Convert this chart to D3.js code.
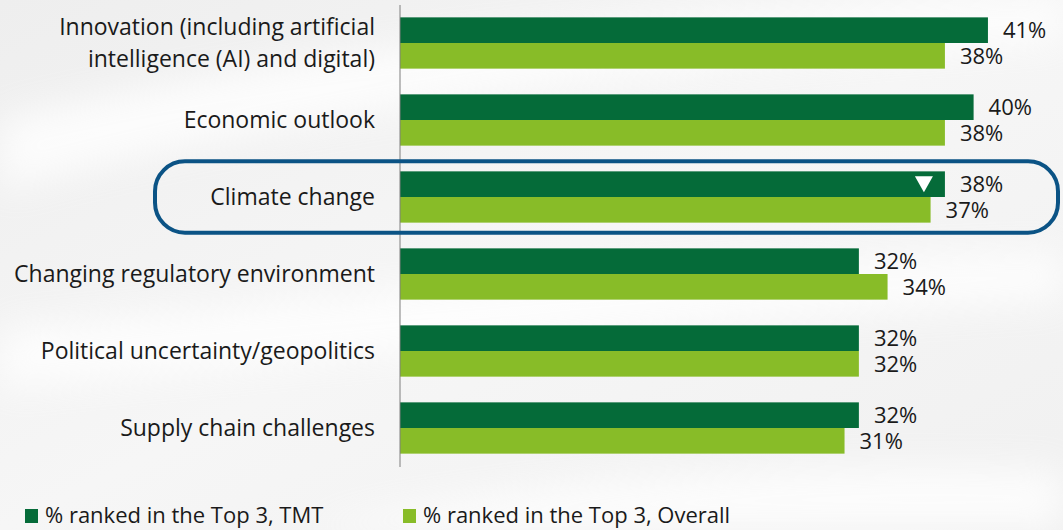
<!DOCTYPE html>
<html>
<head>
<meta charset="utf-8">
<script src="https://cdn.jsdelivr.net/npm/d3@7"></script>
<style>
  html, body { margin: 0; padding: 0; background: #f3f3f3; }
  svg { display: block; }
  text { font-family: "Open Sans", "Noto Sans", sans-serif; fill: #1a1a1a; }
</style>
</head>
<body>
<div id="chartDiv"></div>
<script>
// chart data
var categories = [
  ["Innovation (including artificial", "intelligence (AI) and digital)"],
  ["Economic outlook"],
  ["Climate change"],
  ["Changing regulatory environment"],
  ["Political uncertainty/geopolitics"],
  ["Supply chain challenges"]
];
var tmtValues = [41, 40, 38, 32, 32, 32];
var overallValues = [38, 38, 37, 34, 32, 31];
var seriesNames = ["% ranked in the Top 3, TMT", "% ranked in the Top 3, Overall"];
var seriesColors = ["#056b39", "#88bc28"];
var highlightIndex = 2;   // Climate change gets the outline + down marker

var width = 1063, height = 530;
var axisX = 400;

var svg = d3.select("#chartDiv").append("svg")
    .attr("width", width)
    .attr("height", height);

// background: soft gray with faint white swooshes
var defs = svg.append("defs");
var bg = defs.append("linearGradient").attr("id", "bgGrad")
    .attr("x1", 0).attr("y1", 0).attr("x2", 1).attr("y2", 1);
bg.append("stop").attr("offset", "0%").attr("stop-color", "#eeeeee");
bg.append("stop").attr("offset", "50%").attr("stop-color", "#f6f6f6");
bg.append("stop").attr("offset", "100%").attr("stop-color", "#f0f0f0");
defs.append("filter").attr("id", "blur").append("feGaussianBlur").attr("stdDeviation", 18);

svg.append("rect").attr("width", width).attr("height", height).attr("fill", "url(#bgGrad)");
var swoosh = svg.append("g").attr("filter", "url(#blur)").attr("fill", "#ffffff").attr("opacity", 0.8);
swoosh.append("path").attr("d", "M0,120 C250,60 600,10 1063,0 L1063,40 C700,60 300,110 0,190 Z");
swoosh.append("path").attr("d", "M0,330 C300,300 700,260 1063,250 L1063,300 C700,320 300,360 0,390 Z");
swoosh.append("path").attr("d", "M300,530 C500,480 800,460 1063,470 L1063,530 Z");

var x = d3.scaleLinear()
    .domain([0, 41])
    .range([axisX, axisX + 41 * 14.34]);

var y = d3.scaleBand()
    .domain(d3.range(categories.length))
    .range([4.5, 466.5])
    .paddingInner(0.334)
    .paddingOuter(0.167);

var y1 = d3.scaleBand()
    .domain([0, 1])
    .range([0, y.bandwidth()]);

var groups = svg.append("g").selectAll(".grp")
    .data(categories.map(function(c, i) { return { label: c, vals: [tmtValues[i], overallValues[i]], i: i }; }))
    .enter().append("g")
    .attr("class", "grp")
    .attr("transform", function(d) { return "translate(0," + y(d.i) + ")"; });

groups.selectAll("rect")
    .data(function(d) { return d.vals; })
    .enter().append("rect")
    .attr("x", x(0))
    .attr("y", function(d, j) { return y1(j); })
    .attr("width", function(d) { return x(d) - x(0); })
    .attr("height", y1.bandwidth())
    .attr("fill", function(d, j) { return seriesColors[j]; });

groups.selectAll(".val")
    .data(function(d) { return d.vals; })
    .enter().append("text")
    .attr("class", "val")
    .attr("x", function(d) { return x(d) + 15; })
    .attr("y", function(d, j) { return y1(j) + y1.bandwidth() / 2 + 8; })
    .style("font-size", "22px")
    .text(function(d) { return d + "%"; });

// category labels
groups.append("text")
    .attr("text-anchor", "end")
    .style("font-size", "23px")
    .each(function(d) {
      var t = d3.select(this);
      var n = d.label.length;
      d.label.forEach(function(line, k) {
        t.append("tspan")
          .attr("x", 375)
          .attr("y", y.bandwidth() / 2 + 8 + (k - (n - 1) / 2) * 31.7)
          .text(line);
      });
    });

// vertical axis line
svg.append("line")
    .attr("x1", axisX).attr("x2", axisX)
    .attr("y1", 5).attr("y2", 467)
    .attr("stroke", "#7f7f7f").attr("stroke-width", 1);

// highlight outline around climate change
var hy = y(highlightIndex);
svg.append("rect")
    .attr("x", 155)
    .attr("y", hy - 10)
    .attr("width", 903)
    .attr("height", y.bandwidth() + 20)
    .attr("rx", 30)
    .attr("fill", "none")
    .attr("stroke", "#0b5385")
    .attr("stroke-width", 4);

// white down marker inside the TMT bar
var tx = x(tmtValues[highlightIndex]) - 21, ty = hy + 5;
svg.append("path")
    .attr("d", "M" + (tx - 9) + "," + ty + " L" + (tx + 9) + "," + ty + " L" + tx + "," + (ty + 16) + " Z")
    .attr("fill", "#ffffff");

// legend
var legendX = [25, 403];
var legend = svg.append("g").selectAll(".leg")
    .data(seriesNames)
    .enter().append("g")
    .attr("transform", function(d, i) { return "translate(" + legendX[i] + ",509)"; });
legend.append("rect")
    .attr("width", 13).attr("height", 14)
    .attr("fill", function(d, i) { return seriesColors[i]; });
legend.append("text")
    .attr("x", 20)
    .attr("y", 14)
    .style("font-size", "22px")
    .text(function(d) { return d; });
</script>
</body>
</html>
